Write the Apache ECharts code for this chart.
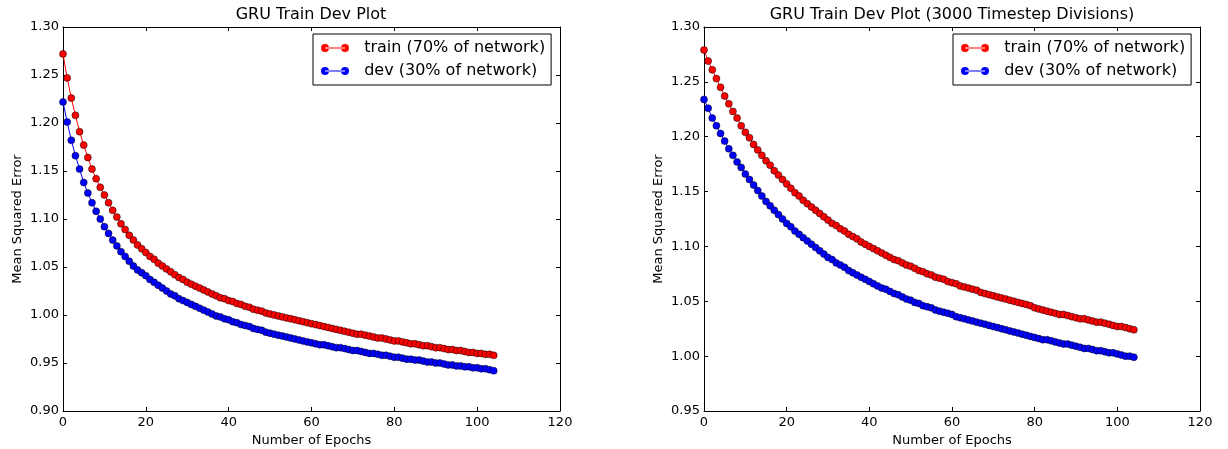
<!DOCTYPE html>
<html>
<head>
<meta charset="utf-8">
<script src="https://cdn.jsdelivr.net/npm/echarts@6/dist/echarts.min.js"></script>
<style>
html,body{margin:0;padding:0;background:#fff;}
#chart{width:1228px;height:449px;}
</style>
</head>
<body>
<div id="chart"></div>
<script>
// Left plot: "GRU Train Dev Plot" (value per epoch, index = epoch)
const leftTrain = [
1.272,1.247,1.226,1.208,1.191,1.177,1.164,1.152,1.142,1.133,
1.125,1.117,1.109,1.102,1.095,1.089,1.083,1.078,1.073,1.069,
1.065,1.061,1.058,1.054,1.051,1.048,1.045,1.042,1.039,1.037,
1.034,1.032,1.030,1.028,1.026,1.024,1.022,1.020,1.018,1.017,
1.015,1.014,1.012,1.011,1.009,1.008,1.006,1.005,1.004,1.002,
1.001,1.000,0.999,0.998,0.997,0.996,0.995,0.994,0.993,0.992,
0.991,0.990,0.989,0.988,0.987,0.986,0.985,0.984,0.983,0.982,
0.981,0.980,0.980,0.979,0.978,0.977,0.976,0.976,0.975,0.974,
0.973,0.973,0.972,0.971,0.970,0.970,0.969,0.968,0.968,0.967,
0.966,0.966,0.965,0.964,0.964,0.963,0.963,0.962,0.961,0.961,
0.960,0.960,0.959,0.959,0.958
];
const leftDev = [
1.222,1.201,1.182,1.166,1.152,1.138,1.127,1.117,1.108,1.100,
1.092,1.085,1.078,1.072,1.066,1.061,1.056,1.051,1.047,1.044,
1.041,1.037,1.034,1.031,1.028,1.025,1.022,1.020,1.017,1.015,
1.013,1.011,1.009,1.007,1.005,1.003,1.001,0.999,0.998,0.996,
0.995,0.993,0.992,0.990,0.989,0.988,0.986,0.985,0.984,0.982,
0.981,0.980,0.979,0.978,0.977,0.976,0.975,0.974,0.973,0.972,
0.971,0.970,0.969,0.969,0.968,0.967,0.966,0.966,0.965,0.964,
0.963,0.963,0.962,0.961,0.960,0.960,0.959,0.958,0.958,0.957,
0.956,0.956,0.955,0.954,0.954,0.953,0.953,0.952,0.951,0.951,
0.950,0.950,0.949,0.948,0.948,0.947,0.947,0.946,0.946,0.945,
0.945,0.944,0.944,0.943,0.942
];
// Right plot: "GRU Train Dev Plot (3000 Timestep Divisions)"
const rightTrain = [
1.279,1.269,1.261,1.253,1.245,1.237,1.230,1.223,1.217,1.210,
1.204,1.199,1.193,1.188,1.183,1.178,1.174,1.169,1.165,1.161,
1.157,1.153,1.149,1.146,1.142,1.139,1.136,1.133,1.130,1.127,
1.124,1.121,1.119,1.116,1.114,1.111,1.109,1.107,1.104,1.102,
1.100,1.098,1.096,1.094,1.092,1.090,1.088,1.087,1.085,1.083,
1.082,1.080,1.078,1.077,1.075,1.074,1.072,1.071,1.070,1.068,
1.067,1.066,1.064,1.063,1.062,1.061,1.060,1.058,1.057,1.056,
1.055,1.054,1.053,1.052,1.051,1.050,1.049,1.048,1.047,1.046,
1.044,1.043,1.042,1.041,1.040,1.039,1.038,1.038,1.037,1.036,
1.035,1.034,1.034,1.033,1.032,1.031,1.031,1.030,1.029,1.028,
1.027,1.027,1.026,1.025,1.024
];
const rightDev = [
1.234,1.226,1.217,1.210,1.203,1.196,1.189,1.183,1.177,1.172,
1.166,1.161,1.156,1.151,1.146,1.141,1.137,1.133,1.129,1.125,
1.121,1.118,1.114,1.111,1.108,1.105,1.102,1.099,1.096,1.093,
1.090,1.088,1.085,1.083,1.081,1.078,1.076,1.074,1.072,1.070,
1.068,1.066,1.064,1.062,1.061,1.059,1.057,1.056,1.054,1.052,
1.051,1.049,1.048,1.046,1.045,1.044,1.042,1.041,1.040,1.039,
1.038,1.036,1.035,1.034,1.033,1.032,1.031,1.030,1.029,1.028,
1.027,1.026,1.025,1.024,1.023,1.022,1.021,1.020,1.019,1.018,
1.017,1.016,1.015,1.015,1.014,1.013,1.012,1.011,1.011,1.010,
1.009,1.008,1.007,1.007,1.006,1.005,1.005,1.004,1.003,1.003,
1.002,1.001,1.000,1.000,0.999
];
const titles = ['GRU Train Dev Plot', 'GRU Train Dev Plot (3000 Timestep Divisions)'];
const seriesNames = ['train (70% of network)', 'dev (30% of network)'];
const xLabel = 'Number of Epochs';
const yLabel = 'Mean Squared Error';
const xTicks = {min: 0, max: 120, interval: 20};
const leftYTicks = {min: 0.90, max: 1.30, interval: 0.05};
const rightYTicks = {min: 0.95, max: 1.30, interval: 0.05};

const FONT = 'DejaVu Sans';
const toPairs = arr => arr.map((v, i) => [i, v]);

function bottomX(gi) {
  return {
    type: 'value', gridIndex: gi, position: 'bottom',
    min: xTicks.min, max: xTicks.max, interval: xTicks.interval,
    name: xLabel, nameLocation: 'middle', nameGap: 20,
    nameTextStyle: {fontFamily: FONT, fontSize: 13, color: '#000'},
    axisLine: {show: true, onZero: false, lineStyle: {color: '#000', width: 1}},
    axisTick: {show: true, inside: true, length: 4, lineStyle: {color: '#000'}},
    axisLabel: {show: true, margin: 5, fontFamily: FONT, fontSize: 13, color: '#000'},
    splitLine: {show: false}
  };
}
function topX(gi) {
  return {
    type: 'value', gridIndex: gi, position: 'top',
    min: xTicks.min, max: xTicks.max, interval: xTicks.interval,
    axisLine: {show: true, onZero: false, lineStyle: {color: '#000', width: 1}},
    axisTick: {show: true, inside: true, length: 4, lineStyle: {color: '#000'}},
    axisLabel: {show: false}, splitLine: {show: false}
  };
}
function leftY(gi, t) {
  return {
    type: 'value', gridIndex: gi, position: 'left',
    min: t.min, max: t.max, interval: t.interval,
    name: yLabel, nameLocation: 'middle', nameGap: 39,
    nameTextStyle: {fontFamily: FONT, fontSize: 13, color: '#000'},
    axisLine: {show: true, onZero: false, lineStyle: {color: '#000', width: 1}},
    axisTick: {show: true, inside: true, length: 4, lineStyle: {color: '#000'}},
    axisLabel: {show: true, margin: 4, fontFamily: FONT, fontSize: 13, color: '#000',
      formatter: v => v.toFixed(2)},
    splitLine: {show: false}
  };
}
function rightY(gi, t) {
  return {
    type: 'value', gridIndex: gi, position: 'right',
    min: t.min, max: t.max, interval: t.interval,
    axisLine: {show: true, onZero: false, lineStyle: {color: '#000', width: 1}},
    axisTick: {show: true, inside: true, length: 4, lineStyle: {color: '#000'}},
    axisLabel: {show: false}, splitLine: {show: false}
  };
}
function mkSeries(name, data, color, xi, yi) {
  return {
    type: 'line', name: name, xAxisIndex: xi, yAxisIndex: yi,
    data: toPairs(data),
    symbol: 'circle', symbolSize: 7,
    lineStyle: {color: color, width: 1},
    itemStyle: {color: color, borderColor: '#000', borderWidth: 0.5},
    emphasis: {disabled: true},
    z: color === '#ff0000' ? 2 : 3
  };
}
const legendIcon = 'path://M0,4a4,4 0 1,0 8,0a4,4 0 1,0 -8,0Z M4,3.5L24,3.5L24,4.5L4,4.5Z M20,4a4,4 0 1,0 8,0a4,4 0 1,0 -8,0Z';
function mkLegend(left) {
  return {
    left: left, top: 34, orient: 'vertical',
    data: seriesNames.map(n => ({name: n, icon: legendIcon})),
    itemWidth: 28, itemHeight: 8, itemGap: 7,
    padding: [6, 6, 6, 8],
    borderColor: '#000', borderWidth: 1, backgroundColor: '#fff',
    formatter: n => '  ' + n,
    textStyle: {fontFamily: FONT, fontSize: 16, color: '#000'},
    selectedMode: false,
    itemStyle: {borderWidth: 0}
  };
}

const chart = echarts.init(document.getElementById('chart'), null, {renderer: 'canvas'});
chart.setOption({
  animation: false,
  backgroundColor: '#fff',
  title: [
    {text: titles[0], left: 311, top: 7, textAlign: 'center', padding: 0,
     textStyle: {fontFamily: FONT, fontSize: 16, fontWeight: 'normal', color: '#000'}},
    {text: titles[1], left: 952, top: 7, textAlign: 'center', padding: 0,
     textStyle: {fontFamily: FONT, fontSize: 16, fontWeight: 'normal', color: '#000'}}
  ],
  legend: [mkLegend(313), mkLegend(953)],
  grid: [
    {left: 63, right: 668, top: 27, bottom: 38, containLabel: false, outerBoundsMode: 'none'},
    {left: 704, right: 28, top: 27, bottom: 38, containLabel: false, outerBoundsMode: 'none'}
  ],
  xAxis: [bottomX(0), topX(0), bottomX(1), topX(1)],
  yAxis: [leftY(0, leftYTicks), rightY(0, leftYTicks), leftY(1, rightYTicks), rightY(1, rightYTicks)],
  series: [
    mkSeries(seriesNames[0], leftTrain, '#ff0000', 0, 0),
    mkSeries(seriesNames[1], leftDev, '#0000ff', 0, 0),
    mkSeries(seriesNames[0], rightTrain, '#ff0000', 2, 2),
    mkSeries(seriesNames[1], rightDev, '#0000ff', 2, 2)
  ]
});
</script>
</body>
</html>
